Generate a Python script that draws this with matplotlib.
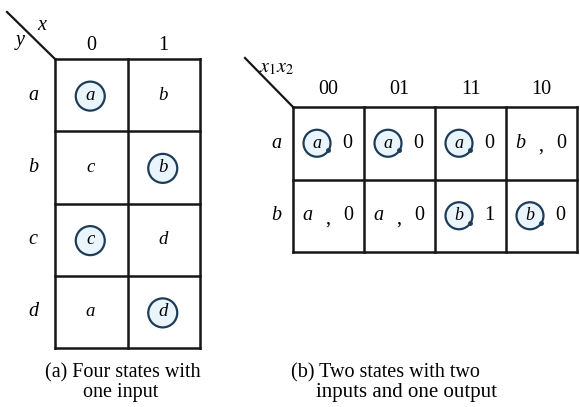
import matplotlib.pyplot as plt
from matplotlib.patches import Circle

# (a) four states, one input
a_states = ['a', 'b', 'c', 'd']
a_inputs = ['0', '1']
a_next = [['a', 'b'], ['c', 'b'], ['c', 'd'], ['a', 'd']]
a_stable = [[True, False], [False, True], [True, False], [False, True]]

# (b) two states, two inputs, one output
b_states = ['a', 'b']
b_inputs = ['00', '01', '11', '10']
b_next = [['a', 'a', 'a', 'b'], ['a', 'a', 'b', 'b']]
b_out = [['0', '0', '0', '0'], ['0', '0', '1', '0']]
b_stable = [[True, True, True, False], [False, False, True, True]]

cap_a = ['(a) Four states with', 'one input']
cap_b = ['(b) Two states with two', 'inputs and one output']

serif = 'Liberation Serif'
fs = 14.5
ink = '#161616'
ring = '#1d3c5a'

fig = plt.figure(figsize=(5.8, 4.07), dpi=100)
ax = fig.add_axes([0, 0, 1, 1])
ax.set_xlim(0, 580)
ax.set_ylim(407, 0)
ax.axis('off')


def grid(x0, y0, cw, ch, nr, nc):
    for i in range(nr + 1):
        ax.plot([x0, x0 + nc * cw], [y0 + i * ch] * 2, color=ink, lw=1.8, solid_capstyle='projecting')
    for j in range(nc + 1):
        ax.plot([x0 + j * cw] * 2, [y0, y0 + nr * ch], color=ink, lw=1.8, solid_capstyle='projecting')


def ringed(x, y, r=13):
    ax.add_patch(Circle((x, y), r, facecolor='#eaf5fb', edgecolor=ring, lw=1.6, zorder=2))


# ---- table (a)
x0, y0, cw, ch = 55, 59, 72.5, 72.25
grid(x0, y0, cw, ch, len(a_states), len(a_inputs))
ax.plot([7, x0], [12, y0], color=ink, lw=1.6)
ax.text(42, 25, 'x', fontsize=fs, family=serif, style='italic', ha='center', va='center')
ax.text(20, 41, 'y', fontsize=fs, family=serif, style='italic', ha='center', va='center')
for j, lab in enumerate(a_inputs):
    ax.text(x0 + (j + 0.5) * cw, 45, lab, fontsize=fs, family=serif, ha='center', va='center')
for i, s in enumerate(a_states):
    cy = y0 + (i + 0.5) * ch
    ax.text(33, cy, s, fontsize=fs, family=serif, style='italic', ha='center', va='center')
    for j in range(len(a_inputs)):
        cx = x0 + (j + 0.5) * cw
        if a_stable[i][j]:
            ringed(cx - 1, cy + 1, 14.5)
        ax.text(cx - 1, cy, a_next[i][j], fontsize=fs - 1, family=serif, style='italic',
                ha='center', va='center', zorder=3)

# ---- table (b)
x0, y0, cw, ch = 293, 107, 71, 72.5
grid(x0, y0, cw, ch, len(b_states), len(b_inputs))
ax.plot([245, x0], [58, y0], color=ink, lw=1.6)
ax.text(277, 68, '$x_1x_2$', fontsize=fs, family=serif, ha='center', va='center',
        math_fontfamily='stix')
for j, lab in enumerate(b_inputs):
    ax.text(x0 + (j + 0.5) * cw, 90, lab, fontsize=fs, family=serif, ha='center', va='center')
for i, s in enumerate(b_states):
    cy = y0 + (i + 0.5) * ch
    ax.text(276, cy, s, fontsize=fs, family=serif, style='italic', ha='center', va='center')
    for j in range(len(b_inputs)):
        cl = x0 + j * cw
        if b_stable[i][j]:
            ringed(cl + 24, cy, 13.5)
            ax.plot([cl + 35], [cy + 7], marker='o', ms=2.5, color=ring, zorder=3)
            ax.text(cl + 24, cy, b_next[i][j], fontsize=fs - 1.5, family=serif, style='italic',
                    ha='center', va='center', zorder=3)
            ax.text(cl + 54, cy, b_out[i][j], fontsize=fs, family=serif, ha='center', va='center')
        else:
            ax.text(cl + 14, cy, b_next[i][j], fontsize=fs, family=serif, style='italic',
                    ha='center', va='center')
            ax.text(cl + 35, cy + 3, ',', fontsize=fs, family=serif, ha='center', va='center')
            ax.text(cl + 55, cy, b_out[i][j], fontsize=fs, family=serif, ha='center', va='center')

# ---- captions
ax.text(123, 373, cap_a[0], fontsize=fs, family=serif, ha='center', va='center')
ax.text(121, 393, cap_a[1], fontsize=fs, family=serif, ha='center', va='center')
ax.text(385, 373, cap_b[0], fontsize=fs, family=serif, ha='center', va='center')
ax.text(406, 393, cap_b[1], fontsize=fs + 0.5, family=serif, ha='center', va='center')

fig.savefig('out.png', dpi=100)
